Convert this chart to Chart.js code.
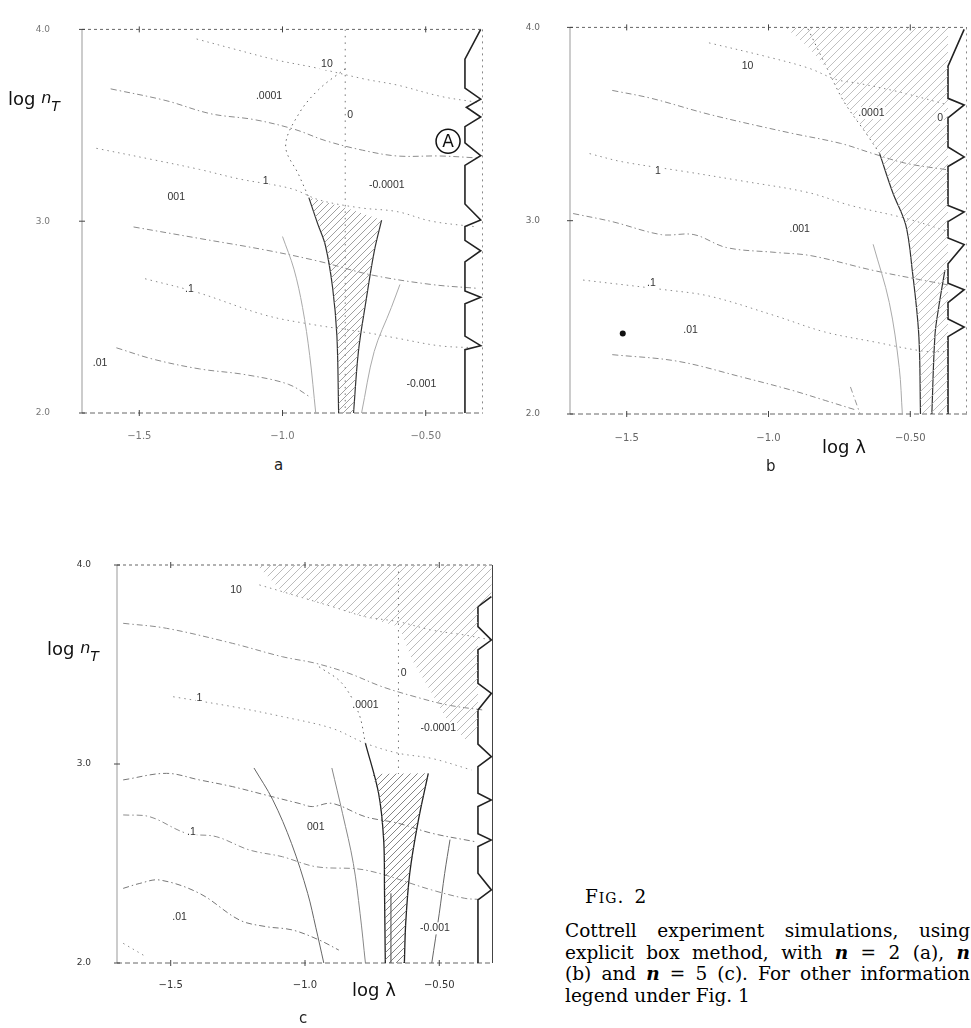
<!DOCTYPE html>
<html>
<head>
<meta charset="utf-8">
<script src="https://cdn.jsdelivr.net/npm/chart.js@4"></script>
<style>
  body { margin: 0; width: 971px; height: 1028px; overflow: hidden; background: #fff; position: relative; }
  canvas { position: absolute; }
  .title { position: absolute; font-family: "DejaVu Sans", sans-serif; font-size: 18px; line-height: 18px; color: #111; white-space: nowrap; }
  .title sub { font-size: 14px; font-style: italic; vertical-align: -6px; }
  .title .n { font-size: 16px; font-style: italic; position: relative; top: -2px; }
  .tag { position: absolute; font-family: "DejaVu Sans", sans-serif; font-size: 15px; line-height: 15px; color: #222; }
  .cap { position: absolute; left: 565px; font-family: "DejaVu Serif", serif; font-size: 18.5px; line-height: 18.5px; color: #000; white-space: nowrap; }
  .cap i { font-weight: bold; }
</style>
</head>
<body>
<canvas id="chartA" width="495" height="445" style="left:0;top:0"></canvas>
<canvas id="chartB" width="483" height="445" style="left:488px;top:0"></canvas>
<canvas id="chartC" width="500" height="462" style="left:0;top:540px"></canvas>

<div class="title" style="left:8px;top:90px">log <span class="n">n</span><sub>T</sub></div>
<div class="title" style="left:47px;top:640px">log <span class="n">n</span><sub>T</sub></div>
<div class="title" style="left:822px;top:438px">log λ</div>
<div class="title" style="left:352px;top:981px">log λ</div>
<div class="tag" style="left:274px;top:458px">a</div>
<div class="tag" style="left:766px;top:459px">b</div>
<div class="tag" style="left:299px;top:1011px">c</div>

<div class="cap" style="left:585px;top:888px;letter-spacing:1px">F<span style="font-size:14px">IG</span>.<span style="margin-left:10px">2</span></div>
<div class="cap" style="top:922px"><span class="fit">Cottrell experiment simulations, using</span></div>
<div class="cap" style="top:943.5px"><span class="fit">explicit box method, with <i>n</i> = 2 (a), <i>n</i></span></div>
<div class="cap" style="top:965px"><span class="fit">(b) and <i>n</i> = 5 (c). For other information</span></div>
<div class="cap" style="top:986.5px">legend under Fig. 1</div>

<script>
// axis ticks shared by all three panels
const xTickValues = [-1.5, -1.0, -0.5];
const xTickLabels = ['−1.5', '−1.0', '−0.50'];
const yTickValues = [2, 3, 4];
const yTickLabels = ['2.0', '3.0', '4.0'];

// ---- panel a (n = 2) ----
const aContour1 = [[-1.30,3.95],[-1.175,3.90],[-1.02,3.84],[-0.885,3.80],[-0.71,3.74],[-0.60,3.71],[-0.445,3.65],[-0.32,3.62]];
const aContour2 = [[-1.60,3.69],[-1.41,3.63],[-1.25,3.56],[-1.10,3.53],[-0.96,3.48],[-0.85,3.42],[-0.72,3.37],[-0.60,3.34],[-0.45,3.34],[-0.32,3.33]];
const aContour3 = [[-1.65,3.38],[-1.45,3.32],[-1.29,3.27],[-1.15,3.22],[-0.97,3.17],[-0.87,3.11],[-0.73,3.07],[-0.60,3.05],[-0.48,3.00],[-0.32,2.97]];
const aContour4 = [[-1.52,2.97],[-1.29,2.91],[-1.06,2.85],[-0.87,2.79],[-0.69,2.72],[-0.48,2.67],[-0.32,2.65]];
const aContour5 = [[-1.48,2.70],[-1.30,2.63],[-1.06,2.51],[-0.89,2.46],[-0.71,2.42],[-0.60,2.39],[-0.45,2.35],[-0.32,2.34]];
const aContour6 = [[-1.58,2.34],[-1.45,2.28],[-1.29,2.23],[-1.13,2.20],[-0.98,2.15],[-0.90,2.08]];
const aZero = [[-0.781,4.0],[-0.781,2.0]];
const aArcLight = [[-1.00,2.92],[-0.96,2.75],[-0.93,2.55],[-0.905,2.30],[-0.884,2.0]];
const aArcUpper = [[-0.781,3.795],[-0.874,3.686],[-0.943,3.56],[-0.989,3.392],[-0.943,3.241],[-0.908,3.123]];
const aArcDark = [[-0.908,3.123],[-0.878,2.99],[-0.85,2.872],[-0.825,2.653],[-0.81,2.40],[-0.804,2.0]];
const aArcRight = [[-0.654,3.006],[-0.68,2.84],[-0.71,2.57],[-0.735,2.32],[-0.752,2.0]];
const aArcFar = [[-0.59,2.67],[-0.62,2.55],[-0.68,2.32],[-0.724,2.0]];
const aHatch = [[-0.908,3.123],[-0.78,3.07],[-0.654,3.006],[-0.68,2.84],[-0.71,2.57],[-0.735,2.32],[-0.752,2.0],[-0.804,2.0],[-0.81,2.40],[-0.825,2.653],[-0.85,2.872],[-0.878,2.99],[-0.908,3.123]];
const aZigzag = [[-0.308,4.0],[-0.363,3.845],[-0.363,3.694],[-0.308,3.636],[-0.358,3.594],[-0.308,3.543],[-0.363,3.493],[-0.363,3.409],[-0.308,3.342],[-0.363,3.291],[-0.363,3.09],[-0.308,3.006],[-0.363,2.972],[-0.363,2.90],[-0.308,2.846],[-0.363,2.788],[-0.363,2.636],[-0.308,2.603],[-0.363,2.569],[-0.363,2.401],[-0.308,2.351],[-0.363,2.33],[-0.363,2.0]];
const aLabels = [['10',-0.845,3.82],['.0001',-1.047,3.652],['0',-0.764,3.552],['-0.0001',-0.636,3.19],['1',-1.059,3.207],['001',-1.371,3.123],['.1',-1.325,2.645],['.01',-1.637,2.259],['-0.001',-0.515,2.149]];
const aMarker = [-0.422, 3.417];

// ---- panel b ----
const bContour1 = [[-1.21,3.92],[-1.01,3.85],[-0.86,3.79],[-0.76,3.73],[-0.68,3.71],[-0.55,3.67],[-0.47,3.64],[-0.37,3.60]];
const bContour2 = [[-1.551,3.674],[-1.413,3.633],[-1.206,3.549],[-0.93,3.456],[-0.746,3.40],[-0.631,3.347],[-0.516,3.297],[-0.367,3.263]];
const bContour3 = [[-1.631,3.347],[-1.516,3.305],[-1.298,3.255],[-1.091,3.205],[-0.861,3.146],[-0.711,3.079],[-0.516,3.012],[-0.367,2.945]];
const bContour4 = [[-1.689,3.037],[-1.551,2.995],[-1.378,2.928],[-1.263,2.928],[-1.148,2.861],[-0.976,2.836],[-0.85,2.819],[-0.631,2.743],[-0.459,2.693],[-0.367,2.668]];
const bContour5 = [[-1.654,2.693],[-1.367,2.643],[-1.206,2.609],[-0.976,2.508],[-0.803,2.425],[-0.631,2.374],[-0.447,2.324],[-0.367,2.324]];
const bContour6 = [[-1.551,2.307],[-1.321,2.273],[-1.091,2.19],[-0.918,2.123],[-0.80,2.07],[-0.69,2.02]];
const bArcLight = [[-0.631,2.878],[-0.574,2.576],[-0.539,2.24],[-0.528,2.0]];
const bArcUpper = [[-0.861,3.993],[-0.792,3.784],[-0.734,3.616],[-0.654,3.448],[-0.608,3.347]];
const bArcDark = [[-0.608,3.347],[-0.562,3.146],[-0.516,2.978],[-0.493,2.743],[-0.47,2.408],[-0.464,2.0]];
const bArcRight = [[-0.378,2.743],[-0.40,2.55],[-0.413,2.408],[-0.424,2.0]];
const bArcShort = [[-0.711,2.14],[-0.677,2.0]];
const bHatch = [[-0.94,4.0],[-0.367,4.0],[-0.367,2.0],[-0.464,2.0],[-0.47,2.408],[-0.493,2.743],[-0.516,2.978],[-0.562,3.146],[-0.608,3.347],[-0.654,3.448],[-0.734,3.616],[-0.792,3.784],[-0.861,3.90],[-0.94,4.0]];
const bZigzag = [[-0.31,3.99],[-0.367,3.80],[-0.367,3.633],[-0.31,3.599],[-0.367,3.532],[-0.367,3.381],[-0.31,3.33],[-0.367,3.28],[-0.367,3.079],[-0.31,3.045],[-0.367,2.995],[-0.367,2.911],[-0.31,2.877],[-0.367,2.777],[-0.367,2.676],[-0.31,2.643],[-0.367,2.576],[-0.367,2.492],[-0.31,2.45],[-0.367,2.40],[-0.367,2.0]];
const bDot = [[-1.514,2.416]];
const bLabels = [['10',-1.074,3.80],['.0001',-0.637,3.557],['0',-0.395,3.532],['1',-1.39,3.255],['.001',-0.89,2.958],['.1',-1.413,2.676],['.01',-1.275,2.433]];

// ---- panel c (n = 5) ----
const cContour1 = [[-1.17,3.90],[-1.084,3.866],[-0.899,3.791],[-0.775,3.74],[-0.652,3.715],[-0.528,3.673],[-0.405,3.648],[-0.306,3.623]];
const cContour2 = [[-1.677,3.707],[-1.516,3.682],[-1.269,3.606],[-1.084,3.539],[-0.96,3.506],[-0.837,3.456],[-0.714,3.389],[-0.59,3.338],[-0.467,3.296],[-0.33,3.27]];
const cContour3 = [[-1.491,3.338],[-1.269,3.288],[-1.084,3.238],[-0.899,3.179],[-0.775,3.104],[-0.652,3.054],[-0.528,3.028],[-0.38,2.97]];
const cContour4 = [[-1.677,2.92],[-1.516,2.953],[-1.393,2.92],[-1.269,2.886],[-1.146,2.844],[-1.022,2.802],[-0.973,2.786],[-0.899,2.802],[-0.775,2.735],[-0.652,2.702],[-0.528,2.652],[-0.368,2.61]];
const cContour5 = [[-1.677,2.744],[-1.578,2.735],[-1.442,2.652],[-1.331,2.635],[-1.207,2.568],[-1.084,2.534],[-0.96,2.484],[-0.775,2.467],[-0.528,2.367],[-0.405,2.325],[-0.356,2.32]];
const cContour6 = [[-1.677,2.375],[-1.615,2.40],[-1.541,2.417],[-1.393,2.35],[-1.244,2.216],[-1.146,2.183],[-1.047,2.166],[-0.948,2.116],[-0.874,2.065]];
const cContour7 = [[-1.677,2.099],[-1.59,2.03]];
const cZero = [[-0.652,4.0],[-0.652,2.95]];
const cArcLight = [[-1.19,2.98],[-1.12,2.82],[-1.05,2.60],[-0.99,2.35],[-0.96,2.18],[-0.93,2.0]];
const cArcMid = [[-0.90,2.98],[-0.86,2.75],[-0.82,2.50],[-0.795,2.25],[-0.775,2.0]];
const cArcUpper = [[-0.948,3.489],[-0.862,3.405],[-0.80,3.255],[-0.775,3.104]];
const cArcDark = [[-0.775,3.104],[-0.726,2.853],[-0.707,2.618],[-0.704,2.367],[-0.701,2.0]];
const cArcRight = [[-0.541,2.953],[-0.58,2.702],[-0.61,2.451],[-0.625,2.20],[-0.63,2.0]];
const cArcInner = [[-0.68,2.0],[-0.68,2.35]];
const cArcFar = [[-0.46,2.62],[-0.48,2.45],[-0.50,2.25],[-0.528,2.0]];
const cHatchTop = [[-1.18,4.0],[-0.306,4.0],[-0.306,3.84],[-0.356,3.79],[-0.356,3.19],[-0.40,3.12],[-0.47,3.22],[-0.53,3.36],[-0.60,3.52],[-0.65,3.69],[-0.78,3.74],[-0.90,3.79],[-1.08,3.86],[-1.18,4.0]];
const cHatchMid = [[-0.75,2.95],[-0.541,2.953],[-0.58,2.702],[-0.61,2.451],[-0.625,2.20],[-0.63,2.0],[-0.701,2.0],[-0.704,2.367],[-0.707,2.618],[-0.726,2.853],[-0.75,2.95]];
const cZigzag = [[-0.306,3.841],[-0.356,3.791],[-0.356,3.69],[-0.306,3.623],[-0.356,3.573],[-0.356,3.405],[-0.306,3.355],[-0.356,3.271],[-0.356,3.10],[-0.306,3.037],[-0.356,2.987],[-0.356,2.853],[-0.306,2.819],[-0.356,2.786],[-0.356,2.65],[-0.306,2.618],[-0.356,2.585],[-0.356,2.451],[-0.306,2.367],[-0.356,2.317],[-0.356,2.0]];
const cLabels = [['10',-1.257,3.874],['0',-0.633,3.456],['.0001',-0.775,3.296],['-0.0001',-0.504,3.179],['1',-1.393,3.33],['001',-0.96,2.685],['.1',-1.423,2.66],['.01',-1.467,2.233],['-0.001',-0.516,2.174]];

const DOTS = [1.5, 4];
const DASHDOT = [6, 3, 1.5, 3];
const GREY = '#8c8c8c';

function toPoints(arr) {
  return arr.map(p => ({ x: p[0], y: p[1] }));
}

function curve(arr, color, width, dash, tension) {
  return {
    data: toPoints(arr), showLine: true, borderColor: color, borderWidth: width,
    borderDash: dash || [], pointRadius: 0, tension: tension === undefined ? 0.35 : tension, fill: false
  };
}

function hatch(arr, pattern) {
  return {
    data: toPoints(arr), showLine: true, borderWidth: 0, borderColor: 'rgba(0,0,0,0)',
    pointRadius: 0, tension: 0, fill: 'shape', backgroundColor: pattern
  };
}

// diagonal "/" hatching used for the shaded regions
function makeHatch(canvas, color, gap) {
  const tile = document.createElement('canvas');
  tile.width = gap; tile.height = gap;
  const g = tile.getContext('2d');
  g.strokeStyle = color;
  g.lineWidth = 0.8;
  g.beginPath();
  g.moveTo(0, gap); g.lineTo(gap, 0);
  g.moveTo(-1, 1); g.lineTo(1, -1);
  g.moveTo(gap - 1, gap + 1); g.lineTo(gap + 1, gap - 1);
  g.stroke();
  return canvas.getContext('2d').createPattern(tile, 'repeat');
}

// frame, tick crosses, contour labels and the circled marker
const decorPlugin = {
  id: 'decor',
  beforeDatasetsDraw(chart, args, o) {
    const { ctx, chartArea: ca, scales: { x, y } } = chart;
    ctx.save();
    ctx.lineWidth = 1;
    ctx.strokeStyle = '#999';
    ctx.beginPath(); ctx.moveTo(ca.left, ca.top); ctx.lineTo(ca.left, ca.bottom); ctx.stroke();
    ctx.strokeStyle = '#666';
    ctx.setLineDash([3, 3]);
    ctx.beginPath(); ctx.moveTo(ca.left, ca.top); ctx.lineTo(ca.right, ca.top); ctx.stroke();
    ctx.setLineDash([5, 3]);
    ctx.beginPath(); ctx.moveTo(ca.left, ca.bottom); ctx.lineTo(ca.right, ca.bottom); ctx.stroke();
    ctx.setLineDash(o.rightSolid ? [] : [2, 4]);
    ctx.strokeStyle = o.rightSolid ? '#444' : '#888';
    ctx.beginPath(); ctx.moveTo(ca.right - 0.5, ca.top); ctx.lineTo(ca.right - 0.5, ca.bottom); ctx.stroke();
    ctx.setLineDash([]);
    ctx.strokeStyle = '#444';
    xTickValues.forEach(v => {
      const px = x.getPixelForValue(v);
      ctx.beginPath();
      ctx.moveTo(px, ca.top - 3); ctx.lineTo(px, ca.top + 3);
      ctx.moveTo(px, ca.bottom - 3); ctx.lineTo(px, ca.bottom + 3);
      ctx.stroke();
    });
    yTickValues.forEach(v => {
      const py = y.getPixelForValue(v);
      ctx.beginPath(); ctx.moveTo(ca.left - 3, py); ctx.lineTo(ca.left + 3, py); ctx.stroke();
    });
    ctx.restore();
  },
  afterDatasetsDraw(chart, args, o) {
    const { ctx, scales: { x, y } } = chart;
    ctx.save();
    ctx.font = '10.5px "Liberation Sans", sans-serif';
    ctx.textAlign = 'center';
    ctx.textBaseline = 'middle';
    (o.labels || []).forEach(([t, lx, ly]) => {
      const px = x.getPixelForValue(lx);
      const py = y.getPixelForValue(ly);
      const w = ctx.measureText(t).width;
      ctx.fillStyle = '#fff';
      ctx.fillRect(px - w / 2 - 1, py - 6, w + 2, 12);
      ctx.fillStyle = '#333';
      ctx.fillText(t, px, py);
    });
    if (o.marker) {
      const px = x.getPixelForValue(o.marker[0]);
      const py = y.getPixelForValue(o.marker[1]);
      ctx.fillStyle = '#fff';
      ctx.strokeStyle = '#111';
      ctx.lineWidth = 1.5;
      ctx.beginPath(); ctx.arc(px, py, 12, 0, Math.PI * 2); ctx.fill(); ctx.stroke();
      ctx.fillStyle = '#111';
      ctx.font = '17px "DejaVu Sans", sans-serif';
      ctx.fillText('A', px, py + 1);
    }
    ctx.restore();
  }
};

function makeChart(id, datasets, p) {
  return new Chart(document.getElementById(id), {
    type: 'scatter',
    data: { datasets },
    plugins: [decorPlugin],
    options: {
      responsive: false,
      animation: false,
      devicePixelRatio: 1,
      layout: { padding: { top: p.top, right: p.right, left: 0, bottom: 0 } },
      plugins: {
        legend: { display: false },
        tooltip: { enabled: false },
        decor: { labels: p.labels, marker: p.marker, rightSolid: p.rightSolid }
      },
      scales: {
        x: {
          type: 'linear', min: -1.7, max: -0.3,
          grid: { display: false }, border: { display: false },
          afterBuildTicks: s => { s.ticks = xTickValues.map(v => ({ value: v })); },
          afterFit: s => { s.height = p.xHeight; },
          ticks: {
            padding: p.xPad, color: p.tickColor, maxRotation: 0, autoSkip: false,
            font: { family: 'DejaVu Sans', size: 10 },
            callback: (v, i) => xTickLabels[i]
          }
        },
        y: {
          type: 'linear', min: 2, max: 4,
          grid: { display: false }, border: { display: false },
          afterBuildTicks: s => { s.ticks = yTickValues.map(v => ({ value: v })); },
          afterFit: s => { s.width = p.yWidth; },
          ticks: {
            padding: p.yPad, color: p.tickColor, autoSkip: false,
            font: { family: 'DejaVu Sans', size: 9 },
            callback: (v, i) => yTickLabels[i]
          }
        }
      }
    }
  });
}

const canvasA = document.getElementById('chartA');
const canvasB = document.getElementById('chartB');
const canvasC = document.getElementById('chartC');

makeChart('chartA', [
  hatch(aHatch, makeHatch(canvasA, '#888', 7)),
  curve(aZigzag, '#222', 1.6, [], 0),
  curve(aArcDark, '#333', 1.2),
  curve(aArcRight, '#333', 1.2),
  curve(aArcUpper, '#666', 1, DOTS),
  curve(aArcLight, '#aaa', 1),
  curve(aArcFar, '#aaa', 1),
  curve(aZero, '#777', 1, [1.5, 5], 0),
  curve(aContour1, GREY, 1, DOTS),
  curve(aContour2, GREY, 1, DASHDOT),
  curve(aContour3, GREY, 1, DOTS),
  curve(aContour4, GREY, 1, DASHDOT),
  curve(aContour5, GREY, 1, DOTS),
  curve(aContour6, GREY, 1, DASHDOT)
], { top: 16, right: 12, xHeight: 32, yWidth: 82, xPad: 9, yPad: 24, tickColor: '#777', labels: aLabels, marker: aMarker, rightSolid: false });

makeChart('chartB', [
  hatch(bHatch, makeHatch(canvasB, '#b0b0b0', 8)),
  curve(bZigzag, '#222', 1.6, [], 0),
  curve(bArcDark, '#333', 1.2),
  curve(bArcRight, '#333', 1.2),
  curve(bArcUpper, '#666', 1, DOTS),
  curve(bArcLight, '#aaa', 1),
  curve(bArcShort, '#999', 1, DASHDOT, 0),
  curve(bContour1, GREY, 1, DOTS),
  curve(bContour2, GREY, 1, DASHDOT),
  curve(bContour3, GREY, 1, DOTS),
  curve(bContour4, GREY, 1, DASHDOT),
  curve(bContour5, GREY, 1, DOTS),
  curve(bContour6, GREY, 1, DASHDOT),
  { data: toPoints(bDot), showLine: false, pointRadius: 3, backgroundColor: '#111', borderWidth: 0 }
], { top: 17, right: 0, xHeight: 31, yWidth: 82, xPad: 10, yPad: 22, tickColor: '#666', labels: bLabels, rightSolid: false });

makeChart('chartC', [
  hatch(cHatchTop, makeHatch(canvasC, '#aaa', 8)),
  hatch(cHatchMid, makeHatch(canvasC, '#666', 7)),
  curve(cZigzag, '#222', 1.6, [], 0),
  curve(cArcDark, '#222', 1.3),
  curve(cArcRight, '#222', 1.3),
  curve(cArcInner, '#444', 1, [], 0),
  curve(cArcUpper, '#666', 1, DOTS),
  curve(cArcLight, '#666', 1),
  curve(cArcMid, '#888', 1),
  curve(cArcFar, '#666', 1),
  curve(cZero, '#777', 1, [1.5, 5], 0),
  curve(cContour1, GREY, 1, DOTS),
  curve(cContour2, GREY, 1, DASHDOT),
  curve(cContour3, GREY, 1, DOTS),
  curve(cContour4, '#777', 1, DASHDOT),
  curve(cContour5, GREY, 1, DASHDOT),
  curve(cContour6, '#777', 1, DASHDOT),
  curve(cContour7, GREY, 1, DOTS)
], { top: 25, right: 7, xHeight: 39, yWidth: 117, xPad: 8, yPad: 18, tickColor: '#333', labels: cLabels, rightSolid: true });

// stretch the caption lines to the full column width
document.querySelectorAll('.fit').forEach(el => {
  const gaps = el.textContent.trim().split(/\s+/).length - 1;
  const natural = el.getBoundingClientRect().width;
  el.style.wordSpacing = ((405 - natural) / gaps) + 'px';
});
</script>
</body>
</html>
